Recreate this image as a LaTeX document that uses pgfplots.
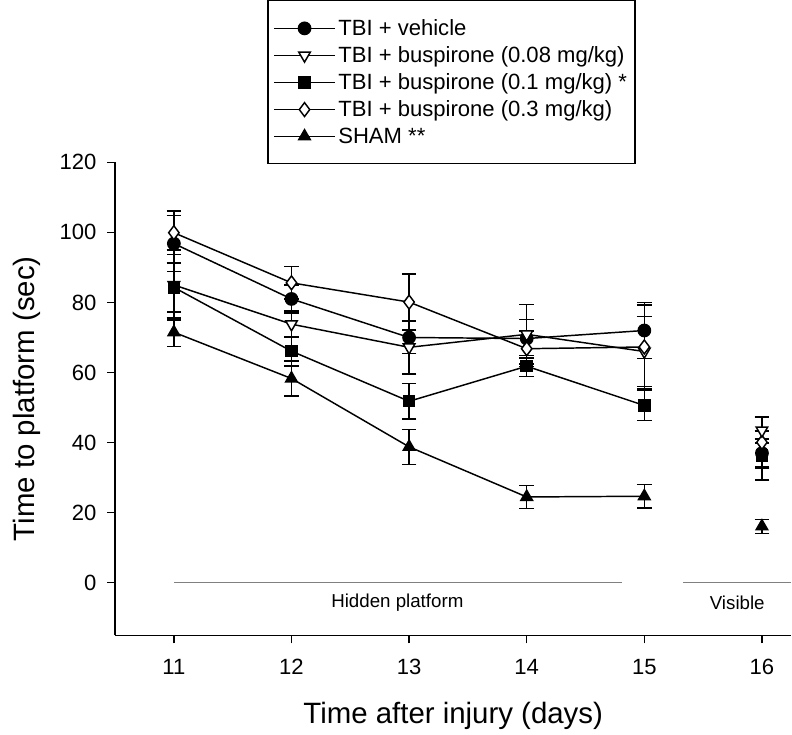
\documentclass[border=0pt]{standalone}
\usepackage{pgfplots}
\pgfplotsset{compat=1.18}
\usepackage{fontspec}
\setmainfont{Liberation Sans}
\begin{document}
\begin{tikzpicture}
\begin{axis}[
  scale only axis, width=506pt, height=354pt,
  xmin=10.5, xmax=16.25, ymin=-15, ymax=120,
  axis x line=bottom, axis y line=left,
  axis line style={-, line width=1pt},
  xtick={11,12,13,14,15,16}, ytick={0,20,40,60,80,100,120},
  tick align=outside, major tick length=6pt,
  tick style={line width=1pt, black},
  /pgf/number format/assume math mode=true,
  ticklabel style={font=\fontsize{16.5}{20}\selectfont},
  xticklabel style={yshift=-8.5pt},
  yticklabel style={xshift=-4.5pt},
  xlabel={Time after injury (days)}, ylabel={Time to platform (sec)},
  label style={font=\fontsize{22}{26}\selectfont},
  xlabel style={yshift=-13.5pt},
  ylabel style={yshift=0.5pt, inner ysep=10pt},
  every axis plot/.append style={line width=1.1pt, black},
  error bars/error bar style={line width=1.1pt, black},
  error bars/error mark options={rotate=90, mark size=5.5pt, line width=1.1pt, black},
  legend style={at={(0.2252,1.343)}, anchor=north west, draw=black, line width=1pt,
    font=\fontsize{16.5}{20}\selectfont, inner xsep=4pt, inner ysep=12pt,
    row sep=2.8pt},
  legend cell align=left,
  legend image code/.code={\draw[line width=1.1pt, mark repeat=2,mark phase=2] plot coordinates {(0cm,0cm) (0.8cm,0cm) (1.6cm,0cm)};},
]
% reference lines
\addplot[gray, line width=1pt, forget plot] coordinates {(11,0) (14.81,0)};
\addplot[gray, line width=1pt, forget plot] coordinates {(15.33,0) (16.25,0)};
\node[font=\fontsize{14}{17}\selectfont] at (axis cs:12.9,-5.8) {Hidden platform};
\node[font=\fontsize{14}{17}\selectfont] at (axis cs:15.79,-5.8) {Visible};

% TBI + vehicle
\addplot[mark=*, mark size=4.6pt, mark options={solid, fill=black},
  error bars/.cd, y dir=both, y explicit] coordinates {
  (11,96.8) +- (0,8) (12,81) +- (0,4) (13,70) +- (0,4.5) (14,69.7) +- (0,5.5) (15,72) +- (0,8)};
\addlegendentry{TBI + vehicle}
% TBI + buspirone 0.08
\addplot[mark=triangle*, mark size=5pt, mark options={solid, fill=white, rotate=180},
  error bars/.cd, y dir=both, y explicit] coordinates {
  (11,85) +- (0,10) (12,73.8) +- (0,3.8) (13,67.2) +- (0,7.6) (14,70.9) +- (0,8.5) (15,66) +- (0,10)};
\addlegendentry{TBI + buspirone (0.08 mg/kg)}
% TBI + buspirone 0.1
\addplot[mark=square*, mark size=4.1pt, mark options={solid, fill=black},
  error bars/.cd, y dir=both, y explicit] coordinates {
  (11,84.3) +- (0,7) (12,66.1) +- (0,4.2) (13,51.8) +- (0,5) (14,61.8) +- (0,3) (15,50.6) +- (0,4.3)};
\addlegendentry{TBI + buspirone (0.1 mg/kg) *}
% TBI + buspirone 0.3
\addplot[mark=diamond*, mark size=5.2pt, mark options={solid, fill=white},
  error bars/.cd, y dir=both, y explicit] coordinates {
  (11,99.9) +- (0,6.2) (12,85.6) +- (0,4.6) (13,80.1) +- (0,8) (14,66.8) +- (0,5) (15,67.3) +- (0,12)};
\addlegendentry{TBI + buspirone (0.3 mg/kg)}
% SHAM
\addplot[mark=triangle*, mark size=5pt, mark options={solid, fill=black},
  error bars/.cd, y dir=both, y explicit] coordinates {
  (11,71.5) +- (0,4) (12,58.3) +- (0,5) (13,38.8) +- (0,5) (14,24.5) +- (0,3.3) (15,24.7) +- (0,3.4)};
\addlegendentry{SHAM **}

% Visible platform day (no connecting lines)
\addplot[only marks, forget plot, mark=*, mark size=4.6pt, mark options={solid, fill=black},
  error bars/.cd, y dir=both, y explicit] coordinates {(16,37) +- (0,4)};
\addplot[only marks, forget plot, mark=square*, mark size=4.1pt, mark options={solid, fill=black},
  error bars/.cd, y dir=both, y explicit] coordinates {(16,36.3) +- (0,7)};
\addplot[only marks, forget plot, mark=diamond*, mark size=5.2pt, mark options={solid, fill=white},
  error bars/.cd, y dir=both, y explicit] coordinates {(16,40.1) +- (0,7.3)};
\addplot[only marks, forget plot, mark=triangle*, mark size=5pt, mark options={solid, fill=white, rotate=180},
  error bars/.cd, y dir=both, y explicit] coordinates {(16,43.5) +- (0,3.6)};
\addplot[only marks, forget plot, mark=triangle*, mark size=5pt, mark options={solid, fill=black},
  error bars/.cd, y dir=both, y explicit] coordinates {(16,16.1) +- (0,2)};
\end{axis}
\end{tikzpicture}
\end{document}
